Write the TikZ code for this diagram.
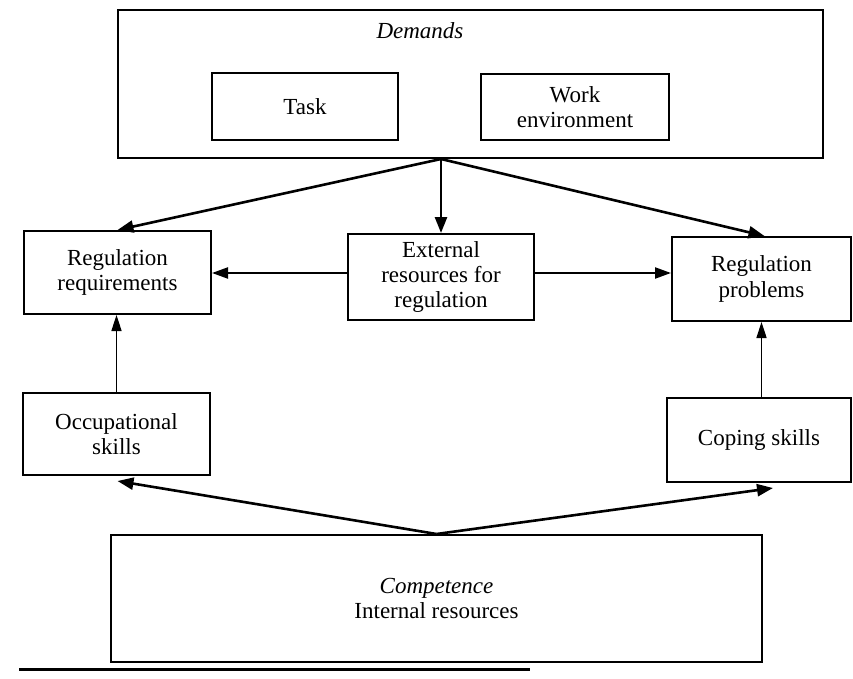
\documentclass[tikz,border=0pt]{standalone}
\usepackage{fontspec}
\setmainfont{Liberation Serif}
\usetikzlibrary{arrows.meta,calc}

\tikzset{
  box/.style={draw, line width=2pt, align=center, inner sep=0pt,
    font=\fontsize{23}{25.5}\selectfont},
  label/.style={align=center, inner sep=0pt, font=\fontsize{23}{25.5}\selectfont},
  bigarrow/.style={line width=2.6pt, -{Triangle[length=16pt,width=12pt]}},
  linkarrow/.style={line width=2.2pt, -{Triangle[length=16pt,width=11pt]}},
  uparrow/.style={line width=1.6pt, -{Triangle[length=16pt,width=10pt]}}
}

\begin{document}
\begin{tikzpicture}[x=1pt,y=-1pt]
  \useasboundingbox (0,0) rectangle (853,679);

  % demands with its two parts
  \node[box, minimum width=705pt, minimum height=148pt] (demands) at (470.5,84) {};
  \node[label] (demandsTitle) at (420,31) {\itshape Demands};
  \node[box, minimum width=186pt, minimum height=67pt] (task) at (305,106.5) {Task};
  \node[box, minimum width=188pt, minimum height=66pt] (work) at (575,107) {Work\\environment};

  % regulation row
  \node[box, minimum width=187pt, minimum height=83pt] (regreq) at (117.5,272.5) {Regulation\\requirements};
  \node[box, minimum width=186pt, minimum height=86pt] (external) at (441,277) {External\\resources for\\regulation};
  \node[box, minimum width=179pt, minimum height=84pt] (regprob) at (761.5,279) {Regulation\\problems};

  % skills
  \node[box, minimum width=187pt, minimum height=82pt] (occup) at (116.5,434) {Occupational\\skills};
  \node[box, minimum width=184pt, minimum height=84pt] (coping) at (759,440) {Coping skills};

  % competence
  \node[box, minimum width=651pt, minimum height=127pt] (comp) at (436.5,598.5)
    {\itshape Competence\\Internal resources};

  % arrows out of the demands box
  \coordinate (fork) at (external.north |- demands.south);
  \draw[bigarrow] (fork) -- (regreq.north);
  \draw[bigarrow] (fork) -- (external.north);
  \draw[bigarrow] (fork) -- ($(regprob.north)+(3,0)$);

  % external resources feed both sides
  \draw[linkarrow] ($(external.west)+(0,-4)$) -- ($(regreq.east)+(0,0.5)$);
  \draw[linkarrow] ($(external.east)+(0,-4)$) -- ($(regprob.west)+(0,-6)$);

  % skills feed regulation
  \draw[uparrow] (occup.north) -- (occup.north |- regreq.south);
  \draw[uparrow] (regprob.south |- coping.north) -- (regprob.south);

  % competence feeds both skills
  \draw[bigarrow] (comp.north) -- ($(occup.south)+(1,5)$);
  \draw[bigarrow] (comp.north) -- ($(coping.south)+(14,5)$);

  % closing rule
  \draw[line width=3pt] (19,669) -- (530,669);
\end{tikzpicture}
\end{document}
